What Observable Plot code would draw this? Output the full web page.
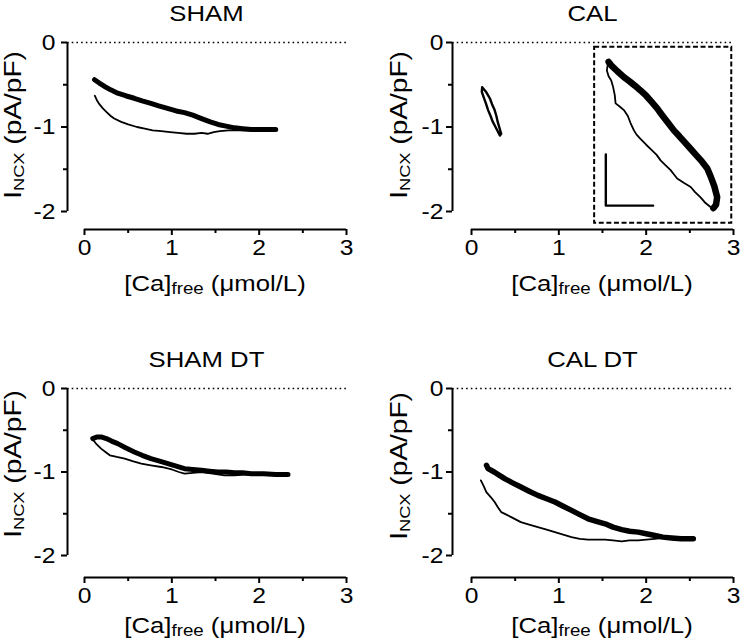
<!DOCTYPE html>
<html><head><meta charset="utf-8">
<script src="https://cdn.jsdelivr.net/npm/d3@7"></script>
<script src="https://cdn.jsdelivr.net/npm/@observablehq/plot@0.6"></script>
<style>
body{margin:0;background:#fff;}
#chart{position:relative;width:742px;height:642px;font-family:"Liberation Sans",Arial,sans-serif;color:#000;}
#chart svg{position:absolute;overflow:visible;}
#chart text{white-space:pre;}
</style></head><body><div id="chart"></div>
<script>
// ---- tick values / titles ----
const panelTitles = ["SHAM", "CAL", "SHAM DT", "CAL DT"];
const xTicks = [0, 1, 2, 3];
const xMinorTicks = [0.5, 1.5, 2.5];
const yTicks = [0, -1, -2];
const yMinorTicks = [-0.5, -1.5];

// ---- traces: [Ca free (umol/L), I_NCX (pA/pF)] ----
const shamUpper = [[0.115,-0.44],[0.17,-0.48],[0.23,-0.52],[0.30,-0.56],[0.38,-0.60],[0.47,-0.63],[0.57,-0.66],[0.66,-0.69],[0.76,-0.72],[0.85,-0.75],[0.95,-0.78],[1.05,-0.81],[1.145,-0.83],[1.24,-0.86],[1.34,-0.90],[1.44,-0.94],[1.53,-0.97],[1.62,-0.99],[1.72,-1.01],[1.81,-1.02],[1.91,-1.03],[2.05,-1.03],[2.19,-1.03]];
const shamLower = [[0.118,-0.63],[0.14,-0.68],[0.17,-0.73],[0.21,-0.78],[0.25,-0.82],[0.30,-0.87],[0.34,-0.90],[0.42,-0.94],[0.50,-0.97],[0.60,-1.00],[0.69,-1.02],[0.78,-1.04],[0.88,-1.05],[0.98,-1.06],[1.07,-1.07],[1.17,-1.08],[1.26,-1.08],[1.34,-1.07],[1.41,-1.08],[1.48,-1.06],[1.55,-1.05],[1.65,-1.04],[1.75,-1.04],[1.90,-1.04],[2.05,-1.03],[2.19,-1.03]];
const calLoop = [[0.122,-0.53],[0.17,-0.59],[0.21,-0.66],[0.235,-0.73],[0.265,-0.80],[0.285,-0.87],[0.30,-0.94],[0.32,-1.01],[0.34,-1.08],[0.325,-1.10],[0.30,-1.05],[0.275,-1.00],[0.24,-0.93],[0.215,-0.86],[0.19,-0.80],[0.165,-0.72],[0.14,-0.65],[0.118,-0.585],[0.122,-0.53]];
const calInsetUpper = [[1.57,-0.23],[1.60,-0.27],[1.67,-0.34],[1.745,-0.41],[1.81,-0.46],[1.87,-0.51],[1.935,-0.567],[2.00,-0.63],[2.06,-0.70],[2.126,-0.78],[2.19,-0.87],[2.25,-0.95],[2.317,-1.04],[2.38,-1.11],[2.44,-1.18],[2.508,-1.257],[2.57,-1.33],[2.64,-1.41],[2.70,-1.49],[2.74,-1.59],[2.78,-1.70],[2.813,-1.83],[2.80,-1.92],[2.77,-1.96]];
const calInsetLower = [[2.77,-1.96],[2.74,-1.95],[2.68,-1.90],[2.62,-1.83],[2.56,-1.77],[2.51,-1.71],[2.43,-1.66],[2.355,-1.61],[2.31,-1.55],[2.28,-1.51],[2.22,-1.45],[2.165,-1.395],[2.12,-1.33],[2.07,-1.28],[2.00,-1.21],[1.935,-1.14],[1.89,-1.09],[1.86,-1.04],[1.82,-0.95],[1.79,-0.87],[1.745,-0.80],[1.70,-0.76],[1.65,-0.72],[1.64,-0.62],[1.62,-0.52],[1.60,-0.45],[1.57,-0.40],[1.55,-0.33],[1.56,-0.26]];
const calInsetBox = [{x1: 1.41, x2: 2.98, y1: -2.14, y2: -0.055}];
const calScaleBar = [[1.538,-1.324],[1.538,-1.93],[2.08,-1.93]];
const shamDtUpper = [[0.095,-0.60],[0.14,-0.58],[0.19,-0.58],[0.25,-0.60],[0.31,-0.63],[0.38,-0.66],[0.47,-0.71],[0.57,-0.76],[0.66,-0.80],[0.76,-0.84],[0.86,-0.87],[0.955,-0.90],[1.05,-0.93],[1.145,-0.96],[1.24,-0.97],[1.34,-0.98],[1.43,-0.99],[1.53,-1.00],[1.62,-1.00],[1.72,-1.01],[1.81,-1.01],[1.91,-1.02],[2.05,-1.02],[2.19,-1.03],[2.33,-1.03]];
const shamDtLower = [[0.095,-0.61],[0.14,-0.67],[0.19,-0.72],[0.24,-0.76],[0.29,-0.80],[0.37,-0.82],[0.46,-0.84],[0.55,-0.87],[0.65,-0.90],[0.76,-0.92],[0.88,-0.94],[1.00,-0.97],[1.08,-1.00],[1.145,-1.02],[1.24,-1.01],[1.34,-1.00],[1.47,-1.02],[1.60,-1.04],[1.72,-1.04],[1.83,-1.03],[2.00,-1.03],[2.19,-1.03],[2.33,-1.03]];
const calDtUpper = [[0.172,-0.92],[0.19,-0.96],[0.26,-1.00],[0.32,-1.04],[0.38,-1.08],[0.47,-1.13],[0.565,-1.18],[0.66,-1.23],[0.76,-1.28],[0.86,-1.32],[0.955,-1.36],[1.05,-1.41],[1.145,-1.46],[1.24,-1.51],[1.335,-1.56],[1.43,-1.59],[1.53,-1.62],[1.62,-1.66],[1.72,-1.69],[1.81,-1.71],[1.91,-1.72],[2.00,-1.74],[2.10,-1.76],[2.19,-1.78],[2.29,-1.79],[2.40,-1.80],[2.54,-1.80]];
const calDtLower = [[0.107,-1.10],[0.14,-1.17],[0.17,-1.24],[0.22,-1.30],[0.265,-1.36],[0.30,-1.42],[0.34,-1.48],[0.40,-1.51],[0.455,-1.54],[0.51,-1.57],[0.565,-1.60],[0.66,-1.63],[0.76,-1.66],[0.86,-1.69],[0.955,-1.72],[1.05,-1.75],[1.145,-1.78],[1.24,-1.80],[1.335,-1.81],[1.43,-1.81],[1.53,-1.81],[1.62,-1.82],[1.72,-1.83],[1.81,-1.82],[1.91,-1.82],[2.00,-1.81],[2.10,-1.80],[2.19,-1.79],[2.29,-1.78],[2.40,-1.79],[2.54,-1.80]];

// ---- layout (positions and styles) ----
const panels = [
  {title: panelTitles[0], left: 0, top: 0, mL: 84, mR: 25, mT: 42, mB: 110, gapY: 17, gapX: 18, tickPad: 6, ylabGap: 46, ylabOff: 83, xlabOff: 62,
   lines: [{data: shamLower, w: 1.8}, {data: shamUpper, w: 5}]},
  {title: panelTitles[1], left: 371, top: 0, mL: 100, mR: 9, mT: 42, mB: 110, gapY: 19, gapX: 18, tickPad: 3, ylabGap: 45.5, ylabOff: 83, xlabOff: 62,
   lines: [{data: calLoop, w: 2.4}, {data: calInsetLower, w: 1.8}, {data: calInsetUpper, w: 6.5}], inset: true},
  {title: panelTitles[2], left: 0, top: 321, mL: 84, mR: 25, mT: 67, mB: 87, gapY: 17, gapX: 22, tickPad: 6, ylabGap: 46.5, ylabOff: 76, xlabOff: 56,
   lines: [{data: shamDtLower, w: 1.8}, {data: shamDtUpper, w: 5}]},
  {title: panelTitles[3], left: 371, top: 321, mL: 100, mR: 9, mT: 67, mB: 87, gapY: 19, gapX: 22, tickPad: 3, ylabGap: 45.5, ylabOff: 78, xlabOff: 56,
   lines: [{data: calDtLower, w: 1.8}, {data: calDtUpper, w: 5.5}]}
];

const chart = document.getElementById("chart");
const xMin = d3.min(xTicks), xMax = d3.max(xTicks);
const yMin = d3.min(yTicks), yMax = d3.max(yTicks);
const fmt = d => `${d}`;

for (const p of panels) {
  const marks = [
    Plot.ruleY([yMax], {x1: xMin, x2: xMax, insetLeft: -p.gapY, stroke: "#000", strokeWidth: 1.6, strokeDasharray: "1.6,3.1"}),
    Plot.ruleX([xMin], {y1: yMin, y2: yMax, dx: -p.gapY, stroke: "#000", strokeWidth: 2}),
    Plot.ruleY([yMin], {x1: xMin, x2: xMax, dy: p.gapX, stroke: "#000", strokeWidth: 2}),
    Plot.axisY({ticks: yTicks, tickFormat: fmt, tickSize: 6, tickPadding: p.tickPad, dx: -p.gapY, strokeWidth: 2, fontSize: 22, label: null, color: "#000"}),
    Plot.axisY({ticks: yMinorTicks, tickSize: 4, dx: -p.gapY, strokeWidth: 2, fill: "none", stroke: "#000", label: null}),
    Plot.axisX({ticks: xTicks, tickFormat: fmt, tickSize: 6, tickPadding: 4, dy: p.gapX, strokeWidth: 2, fontSize: 22, label: null, color: "#000"}),
    Plot.axisX({ticks: xMinorTicks, tickSize: 4, dy: p.gapX, strokeWidth: 2, fill: "none", stroke: "#000", label: null})
  ];
  if (p.inset) {
    marks.push(Plot.rect(calInsetBox, {x1: "x1", x2: "x2", y1: "y1", y2: "y2", fill: "none", stroke: "#000", strokeWidth: 2, strokeDasharray: "5,2.6"}));
    marks.push(Plot.line(calScaleBar, {x: d => d[0], y: d => d[1], stroke: "#000", strokeWidth: 2.4}));
  }
  for (const l of p.lines) {
    marks.push(Plot.line(l.data, {x: d => d[0], y: d => d[1], stroke: "#000", strokeWidth: l.w, strokeLinejoin: "round", strokeLinecap: "round"}));
  }
  const svg = Plot.plot({
    width: 371, height: 321,
    marginLeft: p.mL, marginRight: p.mR, marginTop: p.mT, marginBottom: p.mB,
    x: {domain: [xMin, xMax]},
    y: {domain: [yMin, yMax]},
    style: {fontFamily: "'Liberation Sans', Arial, sans-serif", fontSize: "22px", color: "#000", background: "transparent", overflow: "visible"},
    marks
  });
  svg.style.left = p.left + "px";
  svg.style.top = p.top + "px";
  chart.appendChild(svg);

  // widen tick labels slightly, like the reference font
  d3.select(svg).selectAll("text").each(function () {
    const t = this.getAttribute("transform") || "";
    this.setAttribute("transform", t + " scale(1.12,1)");
  });

  const sx = svg.scale("x"), sy = svg.scale("y");
  const x0 = sx.apply(xMin), x3 = sx.apply(xMax);
  const y0 = sy.apply(yMax), y2 = sy.apply(yMin);
  const axisX = x0 - p.gapY;
  const g = d3.select(svg).append("g").attr("fill", "#000").attr("font-family", "'Liberation Sans', Arial, sans-serif");

  // title
  g.append("text").attr("text-anchor", "middle").attr("font-size", 22)
    .attr("transform", `translate(${(axisX + x3) / 2},${y0 - 21}) scale(1.17,1)`)
    .text(p.title);

  // x label
  const xl = g.append("text").attr("text-anchor", "middle").attr("font-size", 22)
    .attr("transform", `translate(${(x0 + x3) / 2},${y2 + p.gapX + p.xlabOff}) scale(1.17,1)`);
  xl.append("tspan").text("[Ca]");
  xl.append("tspan").attr("font-size", 16).attr("dy", 3).text("free");
  xl.append("tspan").attr("dy", -3).text(" (\u03BCmol/L)");

  // y label
  const yl = g.append("text").attr("text-anchor", "middle").attr("font-size", 23)
    .attr("transform", `translate(${axisX - p.ylabGap},${y0 + p.ylabOff}) rotate(-90) scale(1.22,1)`);
  yl.append("tspan").text("I");
  yl.append("tspan").attr("font-size", 15).attr("dy", 3).text("NCX");
  yl.append("tspan").attr("dy", -3).text(" (pA/pF)");
}
</script>
</body></html>
